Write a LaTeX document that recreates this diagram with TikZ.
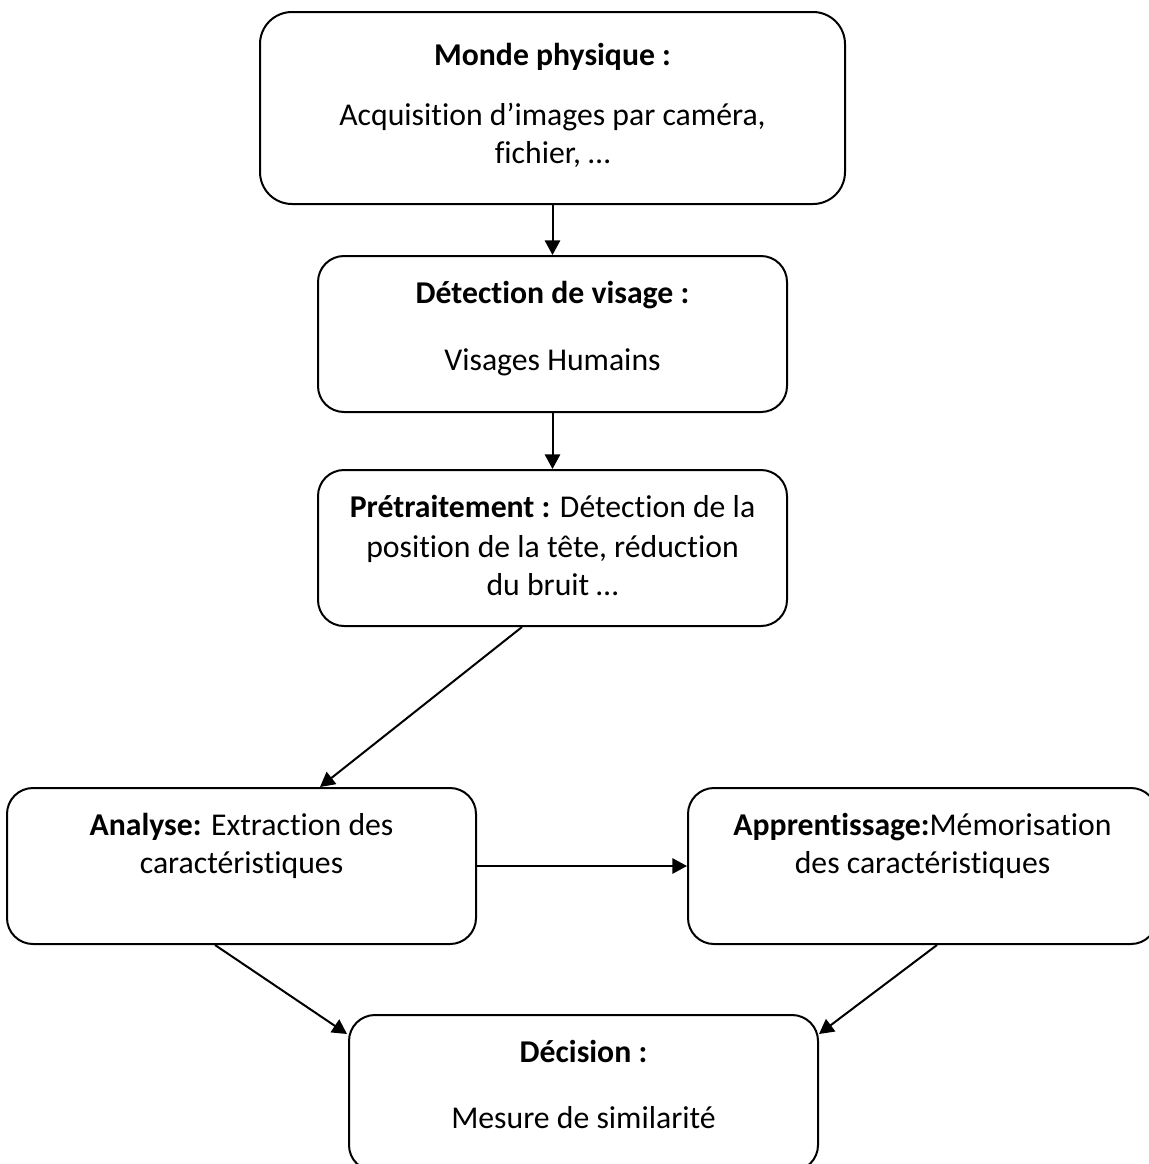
\documentclass[tikz,border=0pt]{standalone}
\usepackage{fontspec}
\setmainfont{Carlito}[Ligatures=CommonOff]
\usetikzlibrary{arrows.meta,calc}
\begin{document}
\begin{tikzpicture}[x=0.75pt,y=-0.75pt,
  box/.style={draw,line width=1.5pt,rounded corners=26*0.75pt,
    minimum width=469*0.75pt,minimum height=156*0.75pt,inner sep=0pt},
  txt/.style={anchor=base,inner sep=0pt,font=\fontsize{23.8pt}{29pt}\selectfont},
  flow/.style={line width=1.5pt,-{Triangle[length=11pt,width=11.5pt]}}]
\useasboundingbox (0,0) rectangle (1149,1164);
\clip (0,0) rectangle (1149,1164);

% boxes
\node[box,minimum width=585*0.75pt,minimum height=192*0.75pt,rounded corners=32*0.75pt] (b1) at (552.5,108) {};
\node[box] (b2) at (552.5,334) {};
\node[box] (b3) at (552.5,548) {};
\node[box] (b4) at (241.5,866) {};
\node[box] (b5) at (922.5,866) {};
\node[box] (b6) at (583.5,1093) {};

% texts
\node[txt] (t1a) at (552.5,65) {\textbf{Monde physique :}};
\node[txt] (t1b) at (552.5,125) {Acquisition d’images par caméra,};
\node[txt] (t1c) at (552.5,163) {fichier, …};

\node[txt] (t2a) at (552.5,303) {\textbf{Détection de visage :}};
\node[txt] (t2b) at (552.5,370) {Visages Humains};

\node[txt] (t3a) at (552.5,517) {\textbf{Prétraitement :} Détection de la};
\node[txt] (t3b) at (552.5,557) {position de la tête, réduction};
\node[txt] (t3c) at (552.5,595) {du bruit …};

\node[txt] (t4a) at (241.5,835) {\textbf{Analyse:} Extraction des};
\node[txt] (t4b) at (241.5,873) {caractéristiques};

\node[txt] (t5a) at (922.5,835) {\textbf{Apprentissage:}Mémorisation};
\node[txt] (t5b) at (922.5,873) {des caractéristiques};

\node[txt] (t6a) at (583.5,1062) {\textbf{Décision :}};
\node[txt] (t6b) at (583.5,1128) {Mesure de similarité};

% connectors
\draw[flow] (b1.south) -- (b2.north);
\draw[flow] (b2.south) -- (b3.north);
\draw[flow] ($(b3.south)+(-30.5,0)$) -- ($(b4.north)+(78.5,0)$);
\draw[flow] (b4.east) -- (b5.west);
\draw[flow] ($(b4.south)+(-26.5,0)$) -- ($(b6.north west)+(-1,20)$);
\draw[flow] ($(b5.south)+(14.5,0)$) -- ($(b6.north east)+(0,20)$);
\end{tikzpicture}
\end{document}
